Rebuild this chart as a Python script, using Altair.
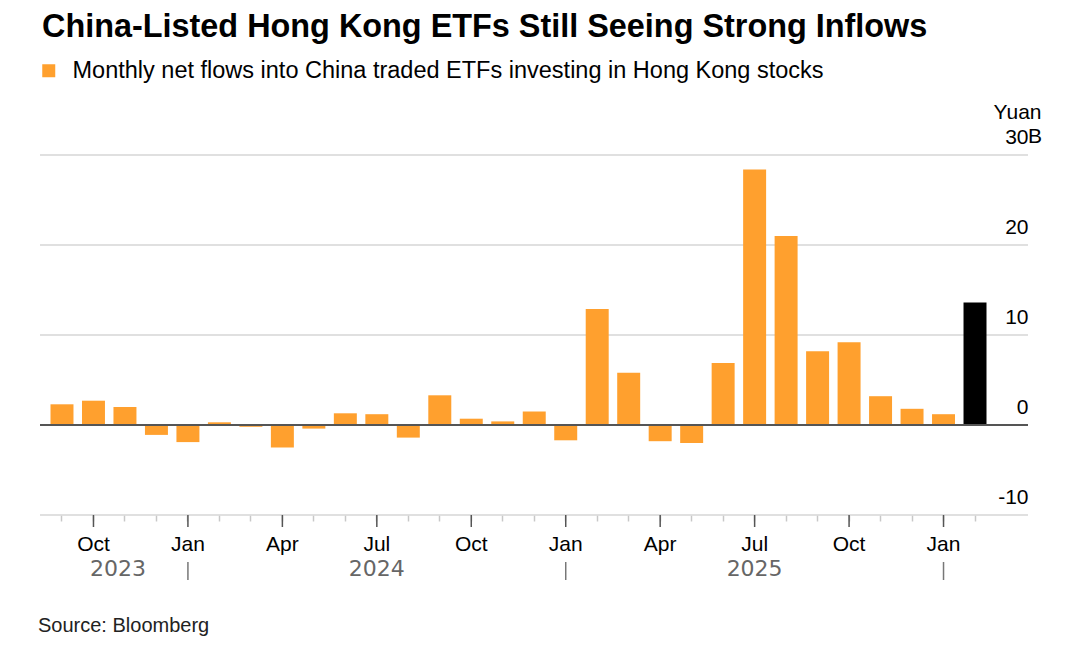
import altair as alt
import pandas as pd

# ---- data ----
months = [
    "2023-09", "2023-10", "2023-11", "2023-12",
    "2024-01", "2024-02", "2024-03", "2024-04", "2024-05", "2024-06",
    "2024-07", "2024-08", "2024-09", "2024-10", "2024-11", "2024-12",
    "2025-01", "2025-02", "2025-03", "2025-04", "2025-05", "2025-06",
    "2025-07", "2025-08", "2025-09", "2025-10", "2025-11", "2025-12",
    "2026-01", "2026-02",
]
flows = [
    2.3, 2.7, 2.0, -1.1,
    -1.9, 0.3, -0.2, -2.5, -0.4, 1.3,
    1.2, -1.4, 3.3, 0.7, 0.4, 1.5,
    -1.7, 12.9, 5.8, -1.8, -2.0, 6.9,
    28.4, 21.0, 8.2, 9.2, 3.2, 1.8,
    1.2, 13.6,
]
latest_month = "2026-02"
series_name = "Monthly net flows into China traded ETFs investing in Hong Kong stocks"
y_ticks = [-10, 0, 10, 20, 30]
quarter_names = {"01": "Jan", "04": "Apr", "07": "Jul", "10": "Oct"}
year_labels = ["2023", "2024", "2025"]
year_label_months = ["2023-11", "2024-07", "2025-07"]
year_breaks = ["2024-01", "2025-01", "2026-01"]
title_text = "China-Listed Hong Kong ETFs Still Seeing Strong Inflows"
source_text = "Source: Bloomberg"
unit_text = "Yuan"

ORANGE = "#FFA02E"
FONT = "Liberation Sans"
W, H = 988, 360

df = pd.DataFrame({"month": months, "flow": flows, "series": series_name})
quarters_df = pd.DataFrame({"month": [m for m in months if m[5:] in quarter_names]})
years_df = pd.DataFrame({"month": year_label_months, "year": year_labels})
breaks_df = pd.DataFrame({"month": year_breaks})
grid_df = pd.DataFrame({"v": y_ticks})

label_expr = " : ".join(
    f"slice(datum.value,5)=='{k}' ? '{v}'" for k, v in quarter_names.items()
) + " : ''"

x_scale = alt.Scale(range=[10.5, 946.5], paddingInner=0.27, paddingOuter=0)

x_main = alt.X(
    "month:O", sort=months, title=None, scale=x_scale,
    axis=alt.Axis(
        labelExpr=label_expr, labelAngle=0, labelFontSize=21, labelColor="#000000",
        labelFont=FONT, labelPadding=12, labelOverlap=False,
        domain=False, ticks=True, tickSize=6, tickWidth=1.5, tickColor="#c8c8c8",
        grid=False,
    ),
)
x_plain = alt.X("month:O", sort=months)

y_scale = alt.Scale(domain=[-10, 30], nice=False, zero=False)
y_main = alt.Y(
    "flow:Q", title=None, scale=y_scale,
    axis=alt.Axis(
        orient="right", values=y_ticks, grid=False,
        domain=False, ticks=False, tickSize=0,
        labelExpr="datum.value",
        labelAlign="right", labelPadding=0, labelBaseline="alphabetic", labelOffset=-12,
        labelFontSize=21, labelColor="#000000", labelFont=FONT,
        title=unit_text, titleAngle=0, titleAlign="right", titleBaseline="alphabetic",
        titleX=13, titleY=-37, titleFontSize=21, titleFontWeight="normal",
        titleColor="#000000", titleFont=FONT,
    ),
)

color = alt.when(alt.datum.month == latest_month).then(alt.value("#000000")).otherwise(
    alt.Color(
        "series:N",
        scale=alt.Scale(domain=[series_name], range=[ORANGE]),
        legend=alt.Legend(
            orient="none", legendX=-3, legendY=-96, title=None,
            symbolType="square", symbolSize=169, symbolStrokeWidth=0,
            labelFontSize=23.5, labelFont=FONT, labelColor="#000000",
            labelOffset=12, labelLimit=1000,
        ),
    )
)

gridlines = alt.Chart(grid_df).mark_rule(color="#d6d6d6", strokeWidth=1.5).encode(
    y=alt.Y("v:Q", scale=y_scale)
)

bars = alt.Chart(df).mark_bar().encode(x=x_main, y=y_main, color=color)

zero_rule = alt.Chart(df).mark_rule(color="#555555", strokeWidth=2).encode(
    y=alt.datum(0)
)

major_ticks = alt.Chart(quarters_df).mark_rule(color="#555555", strokeWidth=1.5).encode(
    x=x_plain, y=alt.value(H), y2=alt.value(H + 12)
)

year_sep = alt.Chart(breaks_df).mark_rule(color="#777777", strokeWidth=1.5).encode(
    x=x_plain, y=alt.value(H + 47), y2=alt.value(H + 65)
)

year_text_first = alt.Chart(years_df).transform_filter(
    alt.datum.year == year_labels[0]
).mark_text(
    font="DejaVu Sans", fontSize=22, color="#666666", baseline="alphabetic",
    align="center", dx=-7
).encode(x=x_plain, y=alt.value(H + 61), text="year:N")

year_text_rest = alt.Chart(years_df).transform_filter(
    alt.datum.year != year_labels[0]
).mark_text(
    font="DejaVu Sans", fontSize=22, color="#666666", baseline="alphabetic", align="center"
).encode(x=x_plain, y=alt.value(H + 61), text="year:N")

b_suffix = alt.Chart(pd.DataFrame({"t": ["B"]})).mark_text(
    font=FONT, fontSize=21, color="#000000", align="left", baseline="alphabetic", dy=-12
).encode(x=alt.value(W), y=alt.Y(datum=30), text="t:N")

title = alt.Chart(pd.DataFrame({"t": [title_text]})).mark_text(
    font=FONT, fontSize=32.4, fontWeight="bold", color="#000000", align="left",
    baseline="alphabetic"
).encode(x=alt.value(2), y=alt.value(-118), text="t:N")

source = alt.Chart(pd.DataFrame({"t": [source_text]})).mark_text(
    font=FONT, fontSize=20, color="#222222", align="left", baseline="alphabetic"
).encode(x=alt.value(-2), y=alt.value(H + 117), text="t:N")

chart = alt.layer(
    gridlines, bars, zero_rule, major_ticks, year_sep,
    year_text_first, year_text_rest, b_suffix, title, source
).properties(
    width=W, height=H,
    autosize=alt.AutoSizeParams(type="none"),
    padding={"left": 32, "top": 147, "right": 44, "bottom": 129},
    background="#ffffff",
).configure_view(stroke=None)

chart.save("out.html", embed_options={"renderer": "svg", "actions": False})
